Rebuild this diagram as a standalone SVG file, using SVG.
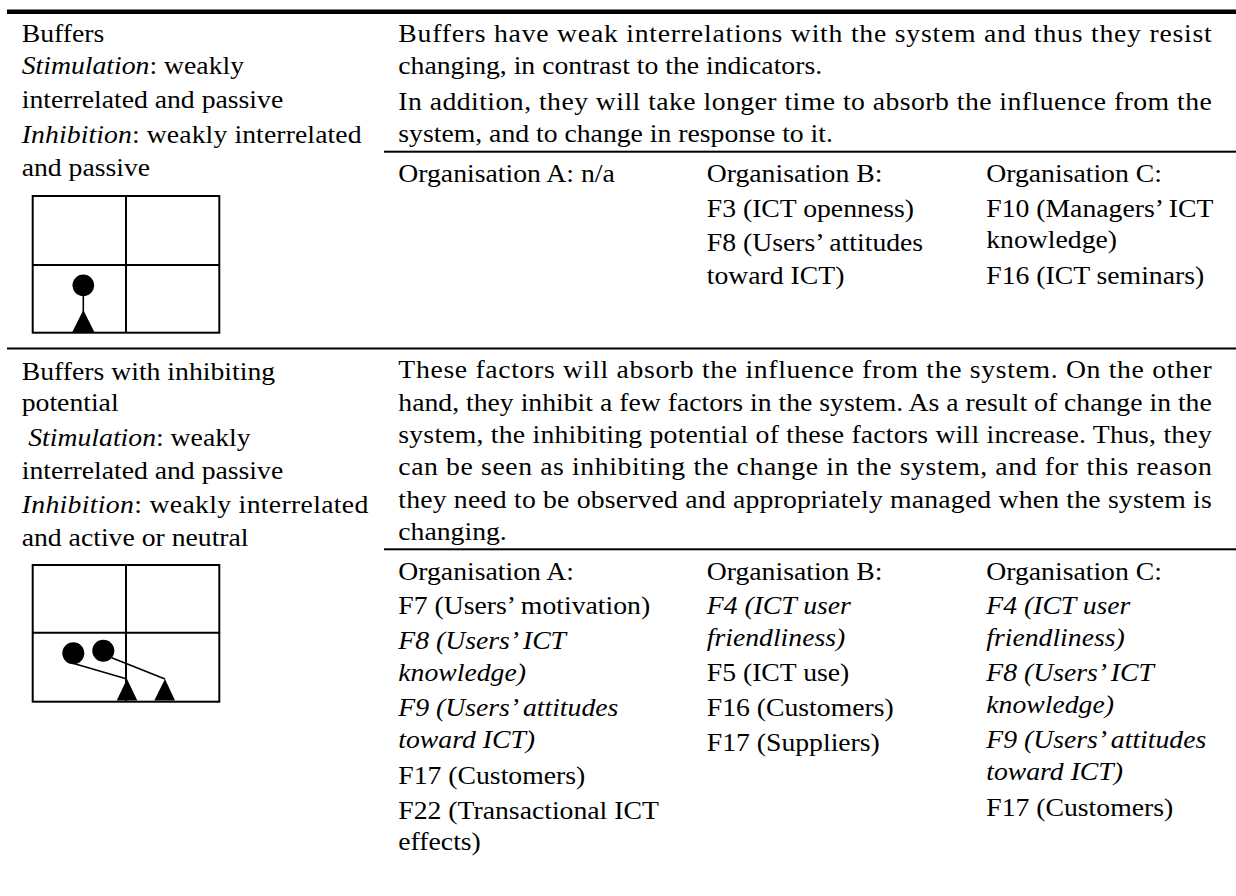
<svg xmlns="http://www.w3.org/2000/svg" width="1236" height="896" viewBox="0 0 1236 896">
<style>
.t{fill:#000}
.i{font-style:italic}
.rule{fill:#000}
.grid{fill:none;stroke:#000;stroke-width:2}
.dot{fill:#000}
.link{stroke:#000;stroke-width:1.6;fill:none}
</style>
<rect width="1236" height="896" fill="#fff"/>
<g id="rules">
<rect class="rule" x="7" y="9.5" width="1229" height="4.5"/>
<rect class="rule" x="384" y="150.7" width="852" height="2"/>
<rect class="rule" x="7" y="347.5" width="1229" height="2"/>
<rect class="rule" x="384" y="548.3" width="852" height="2"/>
</g>
<g id="icon-buffers">
<rect class="grid" x="32.7" y="196" width="186.6" height="136.7"/>
<line class="grid" x1="126" y1="196" x2="126" y2="332.7"/>
<line class="grid" x1="32.7" y1="265" x2="219.3" y2="265"/>
<circle class="dot" cx="83.3" cy="285.3" r="10.8"/>
<polygon class="dot" points="72.3,332 94.3,332 83.3,310"/>
</g>
<g id="icon-buffers-inhibiting">
<rect class="grid" x="32.7" y="565" width="186.6" height="136.7"/>
<line class="grid" x1="126" y1="565" x2="126" y2="701.7"/>
<line class="grid" x1="32.7" y1="632.7" x2="219.3" y2="632.7"/>
<circle class="dot" cx="73.3" cy="653.3" r="11"/>
<circle class="dot" cx="103.3" cy="650.7" r="11"/>
<polygon class="dot" points="116.7,700.5 137.3,700.5 127,679"/>
<polygon class="dot" points="154.3,700.5 175,700.5 165,679"/>
</g>
<g id="connectors">
<line class="link" x1="83.3" y1="290" x2="83.3" y2="312"/>
<line class="link" x1="72" y1="663" x2="127" y2="679"/>
<line class="link" x1="111.7" y1="657.7" x2="165" y2="679"/>
</g>
<g transform="scale(1.1,1)" font-family="Liberation Serif" font-size="25.2">
<g id="row1-label">
<text class="t" x="19.73" y="41.7">Buffers</text>
<text class="t" x="19.73" y="74.5"><tspan class="i">Stimulation</tspan>: weakly</text>
<text class="t" x="19.73" y="108">interrelated and passive</text>
<text class="t" x="19.73" y="143" textLength="309" lengthAdjust="spacing"><tspan class="i">Inhibition</tspan>: weakly interrelated</text>
<text class="t" x="19.73" y="176">and passive</text>
</g>
<g id="row1-description">
<text class="t" x="362.1" y="41.7" textLength="739.5" lengthAdjust="spacing">Buffers have weak interrelations with the system and thus they resist</text>
<text class="t" x="362.1" y="74">changing, in contrast to the indicators.</text>
<text class="t" x="362.1" y="110" textLength="739.5" lengthAdjust="spacing">In addition, they will take longer time to absorb the influence from the</text>
<text class="t" x="362.1" y="141.7">system, and to change in response to it.</text>
</g>
<g id="row1-orgA">
<text class="t" x="362.1" y="181.7">Organisation A: n/a</text>
</g>
<g id="row1-orgB">
<text class="t" x="642.5" y="181.7">Organisation B:</text>
<text class="t" x="642.5" y="216.7">F3 (ICT openness)</text>
<text class="t" x="642.5" y="251.2">F8 (Users’ attitudes</text>
<text class="t" x="642.5" y="283.7">toward ICT)</text>
</g>
<g id="row1-orgC">
<text class="t" x="896.6" y="181.7">Organisation C:</text>
<text class="t" x="896.6" y="216.7">F10 (Managers’ ICT</text>
<text class="t" x="896.6" y="248.5">knowledge)</text>
<text class="t" x="896.6" y="284.5">F16 (ICT seminars)</text>
</g>
<g id="row2-label">
<text class="t" x="19.73" y="380">Buffers with inhibiting</text>
<text class="t" x="19.73" y="411.5">potential</text>
<text class="t" x="25.7" y="446.5"><tspan class="i">Stimulation</tspan>: weakly</text>
<text class="t" x="19.73" y="479.5">interrelated and passive</text>
<text class="t" x="19.73" y="513.5" textLength="315.1" lengthAdjust="spacing"><tspan class="i">Inhibition</tspan>: weakly interrelated</text>
<text class="t" x="19.73" y="546">and active or neutral</text>
</g>
<g id="row2-description">
<text class="t" x="362.1" y="378.5" textLength="739.5" lengthAdjust="spacing">These factors will absorb the influence from the system. On the other</text>
<text class="t" x="362.1" y="410.8" textLength="739.5" lengthAdjust="spacing">hand, they inhibit a few factors in the system. As a result of change in the</text>
<text class="t" x="362.1" y="443.1" textLength="739.5" lengthAdjust="spacing">system, the inhibiting potential of these factors will increase. Thus, they</text>
<text class="t" x="362.1" y="475.4" textLength="739.5" lengthAdjust="spacing">can be seen as inhibiting the change in the system, and for this reason</text>
<text class="t" x="362.1" y="507.7" textLength="739.5" lengthAdjust="spacing">they need to be observed and appropriately managed when the system is</text>
<text class="t" x="362.1" y="540">changing.</text>
</g>
<g id="row2-orgA">
<text class="t" x="362.1" y="580">Organisation A:</text>
<text class="t" x="362.1" y="614.5">F7 (Users’ motivation)</text>
<text class="t i" x="362.1" y="649.5">F8 (Users’ ICT</text>
<text class="t i" x="362.1" y="681.5">knowledge)</text>
<text class="t i" x="362.1" y="716.5">F9 (Users’ attitudes</text>
<text class="t i" x="362.1" y="748.5">toward ICT)</text>
<text class="t" x="362.1" y="784">F17 (Customers)</text>
<text class="t" x="362.1" y="819">F22 (Transactional ICT</text>
<text class="t" x="362.1" y="850.5">effects)</text>
</g>
<g id="row2-orgB">
<text class="t" x="642.5" y="580">Organisation B:</text>
<text class="t i" x="642.5" y="614">F4 (ICT user</text>
<text class="t i" x="642.5" y="646">friendliness)</text>
<text class="t" x="642.5" y="681.5">F5 (ICT use)</text>
<text class="t" x="642.5" y="716.5">F16 (Customers)</text>
<text class="t" x="642.5" y="751.5">F17 (Suppliers)</text>
</g>
<g id="row2-orgC">
<text class="t" x="896.6" y="580">Organisation C:</text>
<text class="t i" x="896.6" y="614">F4 (ICT user</text>
<text class="t i" x="896.6" y="646">friendliness)</text>
<text class="t i" x="896.6" y="681.5">F8 (Users’ ICT</text>
<text class="t i" x="896.6" y="713.5">knowledge)</text>
<text class="t i" x="896.6" y="748.5">F9 (Users’ attitudes</text>
<text class="t i" x="896.6" y="780.5">toward ICT)</text>
<text class="t" x="896.6" y="816">F17 (Customers)</text>
</g>
</g>
</svg>
